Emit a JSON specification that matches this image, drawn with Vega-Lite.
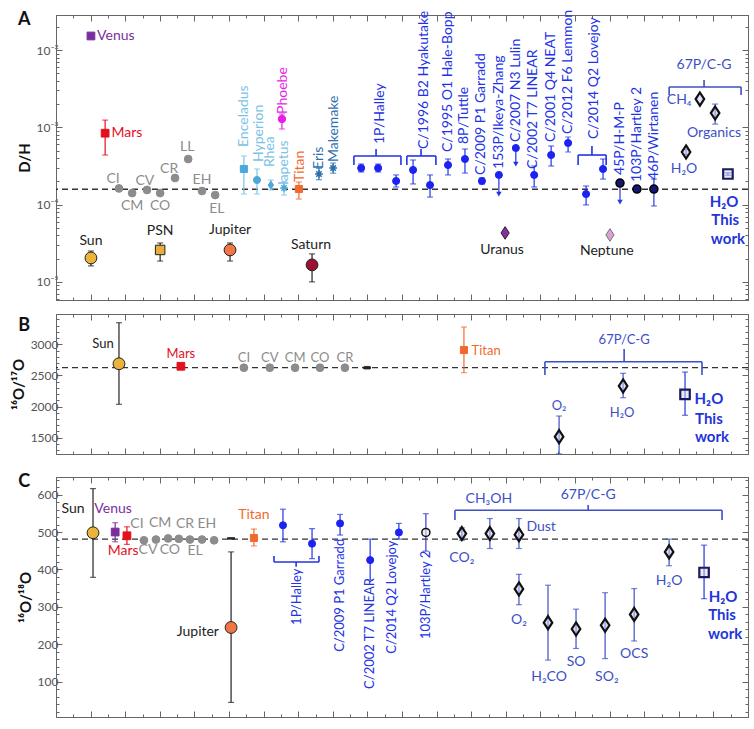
{
"$schema": "https://vega.github.io/schema/vega-lite/v6.json",
"padding": {"left": 10, "top": 9, "right": 5, "bottom": 9},
"background": "white",
"config": {
  "font": "Lato",
  "view": {"stroke": "#666", "strokeWidth": 1},
  "axis": {"grid": false, "domainColor": "#666", "tickColor": "#666", "labelColor": "#555", "labelFont": "Lato", "labelFontSize": 12, "titleFont": "Lato", "titleFontSize": 15, "titleColor": "#111", "titleFontWeight": "bold"},
  "text": {"font": "Lato", "fontSize": 14, "baseline": "middle"}
},
"datasets": {
  "a_ref": [{"v": 0.000158}],
  "a_pts": [
    {"n":"Venus","x":1.01,"y":0.0152,"g":"venus"},
    {"n":"Mars","x":1.42,"y":0.00084,"lo":0.000438,"hi":0.00124,"g":"mars"},
    {"n":"Sun","x":1.01,"y":2.04e-5,"lo":1.61e-5,"hi":2.51e-5,"g":"sun"},
    {"n":"CI","x":1.82,"y":1.62e-4,"g":"chondrite"},
    {"n":"CM","x":2.20,"y":1.41e-4,"g":"chondrite"},
    {"n":"CV","x":2.63,"y":1.55e-4,"g":"chondrite"},
    {"n":"CO","x":3.01,"y":1.41e-4,"g":"chondrite"},
    {"n":"CR","x":3.44,"y":2.21e-4,"g":"chondrite"},
    {"n":"LL","x":3.82,"y":3.89e-4,"g":"chondrite"},
    {"n":"EH","x":4.22,"y":1.50e-4,"g":"chondrite"},
    {"n":"EL","x":4.60,"y":1.33e-4,"g":"chondrite"},
    {"n":"PSN","x":3.01,"y":2.59e-5,"lo":1.86e-5,"hi":3.19e-5,"g":"psn"},
    {"n":"Jupiter","x":5.03,"y":2.59e-5,"lo":1.86e-5,"hi":3.19e-5,"g":"jupiter"},
    {"n":"Enceladus","x":5.43,"y":2.89e-4,"lo":1.37e-4,"hi":4.26e-4,"g":"icysq"},
    {"n":"Hyperion","x":5.81,"y":2.08e-4,"lo":1.37e-4,"hi":2.89e-4,"g":"icyci"},
    {"n":"Rhea","x":6.21,"y":1.79e-4,"lo":1.55e-4,"hi":2.08e-4,"g":"icydi"},
    {"n":"Iapetus","x":6.59,"y":1.64e-4,"lo":1.33e-4,"hi":2.0e-4,"g":"icyast"},
    {"n":"Phoebe","x":6.53,"y":1.28e-3,"lo":9.5e-4,"hi":1.49e-3,"g":"phoebe"},
    {"n":"Titan","x":7.02,"y":1.59e-4,"lo":1.18e-4,"hi":1.96e-4,"g":"titan"},
    {"n":"Eris","x":7.60,"y":2.49e-4,"lo":2.1e-4,"hi":2.95e-4,"g":"tno"},
    {"n":"Makemake","x":8.01,"y":2.97e-4,"lo":2.55e-4,"hi":3.45e-4,"g":"tno"},
    {"n":"Saturn","x":7.40,"y":1.66e-5,"lo":1.0e-5,"hi":2.3e-5,"g":"saturn"},
    {"n":"Halley a","x":8.82,"y":2.97e-4,"lo":2.64e-4,"hi":3.35e-4,"g":"comet"},
    {"n":"Halley b","x":9.31,"y":2.97e-4,"lo":2.64e-4,"hi":3.35e-4,"g":"comet"},
    {"n":"Halley c","x":9.83,"y":2.02e-4,"lo":1.69e-4,"hi":2.42e-4,"g":"comet"},
    {"n":"Hyakutake a","x":10.32,"y":2.81e-4,"lo":1.85e-4,"hi":3.78e-4,"g":"comet"},
    {"n":"Hyakutake b","x":10.81,"y":1.79e-4,"lo":1.25e-4,"hi":2.42e-4,"g":"comet"},
    {"n":"Hale-Bopp","x":11.33,"y":3.25e-4,"lo":2.42e-4,"hi":3.89e-4,"g":"comet"},
    {"n":"Tuttle","x":11.82,"y":3.89e-4,"lo":2.56e-4,"hi":5.24e-4,"g":"comet"},
    {"n":"Garradd","x":12.31,"y":2.02e-4,"lo":1.85e-4,"hi":2.21e-4,"g":"comet"},
    {"n":"Ikeya-Zhang","x":12.80,"y":2.42e-4,"ar":1.37e-4,"g":"comet"},
    {"n":"Lulin","x":13.29,"y":5.4e-4,"ar":3.35e-4,"g":"comet"},
    {"n":"LINEAR","x":13.82,"y":2.42e-4,"lo":1.69e-4,"hi":3.16e-4,"g":"comet"},
    {"n":"NEAT","x":14.31,"y":4.38e-4,"lo":3.16e-4,"hi":5.73e-4,"g":"comet"},
    {"n":"Lemmon","x":14.80,"y":6.27e-4,"lo":4.79e-4,"hi":7.5e-4,"g":"comet"},
    {"n":"Lovejoy a","x":15.32,"y":1.37e-4,"lo":9.9e-5,"hi":1.74e-4,"g":"comet"},
    {"n":"Lovejoy b","x":15.81,"y":2.89e-4,"lo":2.14e-4,"hi":3.89e-4,"g":"comet"},
    {"n":"45P","x":16.30,"y":1.90e-4,"ar":1.08e-4,"g":"jfc"},
    {"n":"103P","x":16.79,"y":1.59e-4,"lo":1.46e-4,"hi":1.74e-4,"g":"jfc"},
    {"n":"46P","x":17.28,"y":1.59e-4,"lo":9.6e-5,"hi":2.14e-4,"g":"jfc"},
    {"n":"Uranus","x":12.98,"y":4.3e-5,"g":"uranus"},
    {"n":"Neptune","x":16.01,"y":4.05e-5,"g":"neptune"},
    {"n":"CH4","x":18.61,"y":2.32e-3,"g":"c67p"},
    {"n":"Organics","x":19.05,"y":1.53e-3,"lo":1.1e-3,"hi":2.0e-3,"g":"c67p"},
    {"n":"H2O","x":18.21,"y":4.79e-4,"lo":4.4e-4,"hi":5.2e-4,"g":"c67p"},
    {"n":"This work","x":19.42,"y":2.49e-4,"lo":2.4e-4,"hi":2.58e-4,"g":"thiswork"}
  ],
  "a_lab": [
    {"t":"Venus","x":1.73,"y":0.0152,"g":"venus"},
    {"t":"Mars","x":2.05,"y":0.00084,"g":"mars"},
    {"t":"Sun","x":1.01,"y":3.38e-5,"g":"sun"},
    {"t":"PSN","x":3.01,"y":4.55e-5,"g":"psn"},
    {"t":"Jupiter","x":5.03,"y":4.69e-5,"g":"jupiter"},
    {"t":"Saturn","x":7.37,"y":3.0e-5,"g":"saturn"},
    {"t":"CI","x":1.65,"y":2.14e-4,"g":"chondrite"},
    {"t":"CM","x":2.20,"y":9.6e-5,"g":"chondrite"},
    {"t":"CV","x":2.57,"y":2.02e-4,"g":"chondrite"},
    {"t":"CO","x":3.01,"y":9.6e-5,"g":"chondrite"},
    {"t":"CR","x":3.27,"y":2.89e-4,"g":"chondrite"},
    {"t":"LL","x":3.79,"y":5.56e-4,"g":"chondrite"},
    {"t":"EH","x":4.22,"y":2.08e-4,"g":"chondrite"},
    {"t":"EL","x":4.65,"y":8.77e-5,"g":"chondrite"},
    {"t":"Uranus","x":12.89,"y":2.59e-5,"g":"uranus"},
    {"t":"Neptune","x":15.92,"y":2.51e-5,"g":"neptune"},
    {"t":"67P/C-G","x":18.73,"y":0.0064,"g":"c67p"},
    {"t":"CH₄","x":18.01,"y":0.00225,"g":"c67p"},
    {"t":"Organics","x":19.02,"y":0.00084,"g":"c67p"},
    {"t":"H₂O","x":18.15,"y":2.89e-4,"g":"c67p"},
    {"t":"H₂O","x":19.31,"y":1.08e-4,"g":"thiswork"},
    {"t":"This","x":19.34,"y":6.33e-5,"g":"thiswork"},
    {"t":"work","x":19.42,"y":3.59e-5,"g":"thiswork"}
  ],
  "a_vlab": [
    {"t":"Enceladus","x":5.43,"y":5.56e-4,"g":"icysq"},
    {"t":"Hyperion","x":5.87,"y":3.56e-4,"g":"icysq"},
    {"t":"Rhea","x":6.18,"y":3.06e-4,"g":"icysq"},
    {"t":"Iapetus","x":6.59,"y":1.79e-4,"g":"icysq"},
    {"t":"Phoebe","x":6.56,"y":1.49e-3,"g":"phoebe"},
    {"t":"Titan","x":7.05,"y":1.96e-4,"g":"titan"},
    {"t":"Eris","x":7.60,"y":2.89e-4,"g":"tno"},
    {"t":"Makemake","x":8.03,"y":3.56e-4,"g":"tno"},
    {"t":"1P/Halley","x":9.36,"y":6.08e-4,"g":"comet"},
    {"t":"C/1996 B2 Hyakutake","x":10.64,"y":5.24e-4,"g":"comet"},
    {"t":"C/1995 O1 Hale-Bopp","x":11.33,"y":4.79e-4,"g":"comet"},
    {"t":"8P/Tuttle","x":11.79,"y":6.08e-4,"g":"comet"},
    {"t":"C/2009 P1 Garradd","x":12.28,"y":2.42e-4,"g":"comet"},
    {"t":"153P/Ikeya-Zhang","x":12.80,"y":2.89e-4,"g":"comet"},
    {"t":"C/2007 N3 Lulin","x":13.29,"y":6.46e-4,"g":"comet"},
    {"t":"C/2002 T7 LINEAR","x":13.79,"y":2.89e-4,"g":"comet"},
    {"t":"C/2001 Q4 NEAT","x":14.31,"y":6.46e-4,"g":"comet"},
    {"t":"C/2012 F6 Lemmon","x":14.80,"y":8.18e-4,"g":"comet"},
    {"t":"C/2014 Q2 Lovejoy","x":15.55,"y":7.06e-4,"g":"comet"},
    {"t":"45P/H-M-P","x":16.30,"y":2.42e-4,"g":"comet"},
    {"t":"103P/Hartley 2","x":16.79,"y":1.96e-4,"g":"comet"},
    {"t":"46P/Wirtanen","x":17.28,"y":2.08e-4,"g":"comet"}
  ],
  "a_seg": [
    {"x":8.61,"x2":9.97,"y":4.26e-4,"y2":4.26e-4,"g":"comet"},
    {"x":8.61,"x2":8.61,"y":4.26e-4,"y2":3.25e-4,"g":"comet"},
    {"x":9.97,"x2":9.97,"y":4.26e-4,"y2":3.25e-4,"g":"comet"},
    {"x":9.25,"x2":9.25,"y":4.26e-4,"y2":5.24e-4,"g":"comet"},
    {"x":10.14,"x2":10.98,"y":4.26e-4,"y2":4.26e-4,"g":"comet"},
    {"x":10.14,"x2":10.14,"y":4.26e-4,"y2":3.25e-4,"g":"comet"},
    {"x":10.98,"x2":10.98,"y":4.26e-4,"y2":3.25e-4,"g":"comet"},
    {"x":10.55,"x2":10.55,"y":4.26e-4,"y2":5.24e-4,"g":"comet"},
    {"x":15.09,"x2":15.90,"y":4.38e-4,"y2":4.38e-4,"g":"comet"},
    {"x":15.09,"x2":15.09,"y":4.38e-4,"y2":3.25e-4,"g":"comet"},
    {"x":15.90,"x2":15.90,"y":4.38e-4,"y2":3.25e-4,"g":"comet"},
    {"x":15.49,"x2":15.49,"y":4.38e-4,"y2":5.73e-4,"g":"comet"},
    {"x":17.72,"x2":19.80,"y":3.32e-3,"y2":3.32e-3,"g":"c67p"},
    {"x":17.72,"x2":17.72,"y":3.32e-3,"y2":2.62e-3,"g":"c67p"},
    {"x":19.80,"x2":19.80,"y":3.32e-3,"y2":2.62e-3,"g":"c67p"},
    {"x":18.73,"x2":18.73,"y":3.32e-3,"y2":4.09e-3,"g":"c67p"}
  ],
  "b_ref": [{"v": 2624}],
  "b_pts": [
    {"n":"Sun","x":1.82,"y":2688,"lo":2036,"hi":3347,"g":"sun"},
    {"n":"Mars","x":3.61,"y":2647,"g":"mars"},
    {"n":"CI","x":5.43,"y":2624,"g":"chondrite"},
    {"n":"CV","x":6.18,"y":2624,"g":"chondrite"},
    {"n":"CM","x":6.91,"y":2624,"g":"chondrite"},
    {"n":"CO","x":7.63,"y":2624,"g":"chondrite"},
    {"n":"CR","x":8.35,"y":2624,"g":"chondrite"},
    {"n":"other","x":8.99,"y":2624,"lo":2604,"hi":2644,"g":"dash"},
    {"n":"Titan","x":11.79,"y":2908,"lo":2544,"hi":3278,"g":"titan"},
    {"n":"O2","x":14.54,"y":1516,"lo":1240,"hi":1848,"g":"c67p"},
    {"n":"H2O","x":16.39,"y":2330,"lo":2142,"hi":2534,"g":"c67p"},
    {"n":"This work","x":18.18,"y":2197,"lo":1860,"hi":2555,"g":"thiswork"}
  ],
  "b_lab": [
    {"t":"Sun","x":1.36,"y":3005,"g":"sun"},
    {"t":"Mars","x":3.61,"y":2844,"g":"mars"},
    {"t":"CI","x":5.43,"y":2780,"g":"chondrite"},
    {"t":"CV","x":6.18,"y":2780,"g":"chondrite"},
    {"t":"CM","x":6.91,"y":2780,"g":"chondrite"},
    {"t":"CO","x":7.63,"y":2780,"g":"chondrite"},
    {"t":"CR","x":8.35,"y":2780,"g":"chondrite"},
    {"t":"Titan","x":12.43,"y":2892,"g":"titan"},
    {"t":"67P/C-G","x":16.42,"y":3069,"g":"c67p"},
    {"t":"O₂","x":14.54,"y":2009,"g":"c67p"},
    {"t":"H₂O","x":16.36,"y":1897,"g":"c67p"},
    {"t":"H₂O","x":18.87,"y":2122,"g":"thiswork"},
    {"t":"This","x":18.87,"y":1801,"g":"thiswork"},
    {"t":"work","x":18.96,"y":1511,"g":"thiswork"}
  ],
  "b_seg": [
    {"x":14.13,"x2":18.67,"y":2721,"y2":2721,"g":"c67p"},
    {"x":14.13,"x2":14.13,"y":2721,"y2":2507,"g":"c67p"},
    {"x":18.67,"x2":18.67,"y":2721,"y2":2507,"g":"c67p"},
    {"x":16.42,"x2":16.42,"y":2721,"y2":2925,"g":"c67p"}
  ],
  "c_ref": [{"v": 481}],
  "c_pts": [
    {"n":"Sun","x":1.07,"y":498,"lo":379,"hi":616,"g":"sun"},
    {"n":"Venus","x":1.71,"y":500,"lo":474,"hi":525,"g":"venus"},
    {"n":"Mars","x":2.05,"y":490,"lo":467,"hi":514,"g":"mars"},
    {"n":"CI","x":2.54,"y":478,"g":"chondrite"},
    {"n":"CV","x":2.89,"y":480,"g":"chondrite"},
    {"n":"CM","x":3.24,"y":483,"g":"chondrite"},
    {"n":"CO","x":3.55,"y":482,"g":"chondrite"},
    {"n":"CR","x":3.87,"y":480,"g":"chondrite"},
    {"n":"EL","x":4.22,"y":480,"g":"chondrite"},
    {"n":"EH","x":4.57,"y":478,"g":"chondrite"},
    {"n":"other","x":5.06,"y":483,"g":"dash"},
    {"n":"Jupiter","x":5.06,"y":245,"lo":45,"hi":447,"g":"jupiter"},
    {"n":"Titan","x":5.72,"y":484,"lo":463,"hi":508,"g":"titan"},
    {"n":"Halley a","x":6.56,"y":518,"lo":474,"hi":561,"g":"comet"},
    {"n":"Halley b","x":7.40,"y":469,"lo":429,"hi":509,"g":"comet"},
    {"n":"Garradd","x":8.21,"y":523,"lo":492,"hi":547,"g":"comet"},
    {"n":"LINEAR","x":9.08,"y":425,"lo":372,"hi":481,"g":"comet"},
    {"n":"Lovejoy","x":9.91,"y":499,"lo":481,"hi":523,"g":"comet"},
    {"n":"103P","x":10.69,"y":499,"lo":449,"hi":549,"g":"jfcopen"},
    {"n":"CO2","x":11.73,"y":496,"lo":478,"hi":511,"g":"c67p"},
    {"n":"CH3OH","x":12.54,"y":496,"lo":456,"hi":536,"g":"c67p"},
    {"n":"Dust","x":13.38,"y":493,"lo":456,"hi":536,"g":"c67p"},
    {"n":"O2","x":13.38,"y":348,"lo":306,"hi":387,"g":"c67p"},
    {"n":"H2CO","x":14.22,"y":258,"lo":158,"hi":358,"g":"c67p"},
    {"n":"SO","x":15.03,"y":241,"lo":189,"hi":294,"g":"c67p"},
    {"n":"SO2","x":15.87,"y":251,"lo":162,"hi":338,"g":"c67p"},
    {"n":"OCS","x":16.71,"y":280,"lo":209,"hi":349,"g":"c67p"},
    {"n":"H2O","x":17.72,"y":447,"lo":410,"hi":481,"g":"c67p"},
    {"n":"This work","x":18.73,"y":392,"lo":322,"hi":465,"g":"thiswork"}
  ],
  "c_lab": [
    {"t":"Sun","x":0.49,"y":562,"g":"sun"},
    {"t":"Venus","x":1.65,"y":562,"g":"venus"},
    {"t":"Mars","x":1.94,"y":449,"g":"mars"},
    {"t":"CI","x":2.34,"y":522,"g":"chondrite"},
    {"t":"CM","x":3.01,"y":524,"g":"chondrite"},
    {"t":"CR","x":3.73,"y":522,"g":"chondrite"},
    {"t":"EH","x":4.36,"y":522,"g":"chondrite"},
    {"t":"CV","x":2.66,"y":452,"g":"chondrite"},
    {"t":"CO","x":3.29,"y":452,"g":"chondrite"},
    {"t":"EL","x":4.02,"y":450,"g":"chondrite"},
    {"t":"Jupiter","x":4.10,"y":233,"g":"jupiter"},
    {"t":"Titan","x":5.72,"y":546,"g":"titan"},
    {"t":"67P/C-G","x":15.38,"y":599,"g":"c67p"},
    {"t":"CH₃OH","x":12.51,"y":589,"g":"c67p"},
    {"t":"CO₂","x":11.73,"y":431,"g":"c67p"},
    {"t":"Dust","x":14.02,"y":514,"g":"c67p"},
    {"t":"O₂","x":13.38,"y":266,"g":"c67p"},
    {"t":"H₂CO","x":14.25,"y":113,"g":"c67p"},
    {"t":"SO","x":15.03,"y":153,"g":"c67p"},
    {"t":"SO₂","x":15.92,"y":113,"g":"c67p"},
    {"t":"OCS","x":16.71,"y":175,"g":"c67p"},
    {"t":"H₂O","x":17.72,"y":370,"g":"c67p"},
    {"t":"H₂O","x":19.28,"y":327,"g":"thiswork"},
    {"t":"This","x":19.25,"y":279,"g":"thiswork"},
    {"t":"work","x":19.34,"y":228,"g":"thiswork"}
  ],
  "c_vlab": [
    {"t":"1P/Halley","x":6.97,"y":252,"g":"comet"},
    {"t":"C/2009 P1 Garradd","x":8.21,"y":180,"g":"comet"},
    {"t":"C/2002 T7 LINEAR","x":9.08,"y":81,"g":"comet"},
    {"t":"C/2014 Q2 Lovejoy","x":9.71,"y":175,"g":"comet"},
    {"t":"103P/Hartley 2","x":10.69,"y":214,"g":"comet"}
  ],
  "c_seg": [
    {"x":6.30,"x2":7.60,"y":420,"y2":420,"g":"comet"},
    {"x":6.30,"x2":6.30,"y":420,"y2":436,"g":"comet"},
    {"x":7.60,"x2":7.60,"y":420,"y2":436,"g":"comet"},
    {"x":6.94,"x2":6.94,"y":420,"y2":407,"g":"comet"},
    {"x":11.53,"x2":19.25,"y":558,"y2":558,"g":"c67p"},
    {"x":11.53,"x2":11.53,"y":558,"y2":532,"g":"c67p"},
    {"x":19.25,"x2":19.25,"y":558,"y2":532,"g":"c67p"},
    {"x":15.38,"x2":15.38,"y":558,"y2":572,"g":"c67p"}
  ]
},
"spacing": 12,
"vconcat": [
{
  "width": 692, "height": 285,
  "resolve": {"axis": {"x": "independent", "y": "independent"}},
  "layer": [
    {"data": {"name": "a_ref"}, "mark": {"type": "rule", "strokeDash": [6, 4], "color": "#333", "strokeWidth": 1.3},
     "encoding": {"y": {"field": "v", "type": "quantitative", "scale": {"type": "log", "domain": [5.83e-6, 0.0284], "nice": false}, "axis": null}}},
    {"data": {"name": "a_seg"}, "mark": {"type": "rule", "strokeWidth": 1.6},
     "encoding": {"x": {"field": "x", "type": "quantitative", "scale": {"domain": [0, 20], "nice": false, "zero": false}, "axis": null}, "x2": {"field": "x2"},
       "y": {"field": "y", "type": "quantitative", "axis": null}, "y2": {"field": "y2"},
       "color": {"field": "g", "type": "nominal", "legend": null, "scale": {"domain": ["sun","psn","jupiter","saturn","venus","mars","chondrite","icysq","icyci","icydi","icyast","phoebe","titan","tno","comet","jfc","jfcopen","uranus","neptune","c67p","thiswork","dash"], "range": ["#222222","#222222","#222222","#222222","#7a2e9e","#e3101e","#8c8c8c","#7cc2e6","#7cc2e6","#7cc2e6","#7cc2e6","#e61ee6","#f2692e","#2e6fae","#2233e6","#2a3ad8","#3a3ac8","#222222","#222222","#3d4fc6","#1f35d9","#222222"]}}}},
    {"data": {"name": "a_pts"}, "transform": [{"filter": "isValid(datum.lo)"}], "mark": {"type": "rule", "strokeWidth": 1.2},
     "encoding": {"x": {"field": "x", "type": "quantitative", "axis": {"orient": "bottom", "values": [0,1,2,3,4,5,6,7,8,9,10,11,12,13,14,15,16,17,18,19,20], "labels": false, "tickSize": -6, "title": null}},
       "y": {"field": "lo", "type": "quantitative", "axis": {"orient": "left", "values": [1e-5, 1e-4, 1e-3, 1e-2], "tickSize": -6, "labelPadding": 4, "labelExpr": "datum.value > 0.005 ? '10⁻²' : datum.value > 0.0005 ? '10⁻³' : datum.value > 0.00005 ? '10⁻⁴' : '10⁻⁵'", "title": "D/H"}},
       "y2": {"field": "hi"}, "color": {"field": "g", "type": "nominal", "legend": null}}},
    {"data": {"name": "a_pts"}, "transform": [{"filter": "isValid(datum.lo)"}], "mark": {"type": "tick", "orient": "horizontal", "size": 6, "thickness": 1.2},
     "encoding": {"x": {"field": "x", "type": "quantitative", "axis": {"orient": "bottom", "values": [0.5,1.5,2.5,3.5,4.5,5.5,6.5,7.5,8.5,9.5,10.5,11.5,12.5,13.5,14.5,15.5,16.5,17.5,18.5,19.5], "labels": false, "domain": false, "tickSize": -3, "title": null}},
       "y": {"field": "lo", "type": "quantitative", "axis": {"orient": "left", "values": [6e-6,7e-6,8e-6,9e-6,2e-5,3e-5,4e-5,5e-5,6e-5,7e-5,8e-5,9e-5,2e-4,3e-4,4e-4,5e-4,6e-4,7e-4,8e-4,9e-4,2e-3,3e-3,4e-3,5e-3,6e-3,7e-3,8e-3,9e-3,2e-2], "labels": false, "domain": false, "tickSize": -3, "title": null}},
       "color": {"field": "g", "type": "nominal", "legend": null}}},
    {"data": {"name": "a_pts"}, "transform": [{"filter": "isValid(datum.hi)"}], "mark": {"type": "tick", "orient": "horizontal", "size": 6, "thickness": 1.2},
     "encoding": {"x": {"field": "x", "type": "quantitative", "axis": null}, "y": {"field": "hi", "type": "quantitative", "axis": null}, "color": {"field": "g", "type": "nominal", "legend": null}}},
    {"data": {"name": "a_pts"}, "transform": [{"filter": "isValid(datum.ar)"}], "mark": {"type": "rule", "strokeWidth": 1.2},
     "encoding": {"x": {"field": "x", "type": "quantitative", "axis": null}, "y": {"field": "y", "type": "quantitative", "axis": null}, "y2": {"field": "ar"}, "color": {"field": "g", "type": "nominal", "legend": null}}},
    {"data": {"name": "a_pts"}, "transform": [{"filter": "isValid(datum.ar)"}], "mark": {"type": "point", "shape": "triangle-down", "filled": true, "size": 30, "opacity": 1},
     "encoding": {"x": {"field": "x", "type": "quantitative", "axis": null}, "y": {"field": "ar", "type": "quantitative", "axis": null}, "color": {"field": "g", "type": "nominal", "legend": null}}},
    {"data": {"name": "a_pts"}, "mark": {"type": "point", "filled": true, "opacity": 1},
     "encoding": {"x": {"field": "x", "type": "quantitative", "axis": {"orient": "top", "values": [0,1,2,3,4,5,6,7,8,9,10,11,12,13,14,15,16,17,18,19,20], "labels": false, "tickSize": -6, "title": null}},
       "y": {"field": "y", "type": "quantitative", "axis": {"orient": "right", "values": [1e-5, 1e-4, 1e-3, 1e-2], "labels": false, "tickSize": -6, "title": null}},
       "shape": {"field": "g", "type": "nominal", "legend": null, "scale": {"domain": ["sun","psn","jupiter","saturn","venus","mars","chondrite","icysq","icyci","icydi","icyast","phoebe","titan","tno","comet","jfc","jfcopen","uranus","neptune","c67p","thiswork","dash"], "range": ["circle","square","circle","circle","square","square","circle","square","circle","M0,-1.15L0.75,0L0,1.15L-0.75,0Z","M-1,0L1,0M0,-1L0,1M-0.7,-0.7L0.7,0.7M-0.7,0.7L0.7,-0.7","circle","square","M-1,0L1,0M0,-1L0,1M-0.7,-0.7L0.7,0.7M-0.7,0.7L0.7,-0.7","circle","circle","circle","M0,-1.15L0.75,0L0,1.15L-0.75,0Z","M0,-1.15L0.75,0L0,1.15L-0.75,0Z","M0,-1.15L0.75,0L0,1.15L-0.75,0Z","square","stroke"]}},
       "fill": {"field": "g", "type": "nominal", "legend": null, "scale": {"domain": ["sun","psn","jupiter","saturn","venus","mars","chondrite","icysq","icyci","icydi","icyast","phoebe","titan","tno","comet","jfc","jfcopen","uranus","neptune","c67p","thiswork","dash"], "range": ["#eab43a","#e8ae3c","#f27545","#9c1030","#7a2e9e","#e3101e","#8c8c8c","#4ca7da","#4ca7da","#4ca7da","#4ca7da","#e61ee6","#f2692e","#2e6fae","#1c22f0","#141670","#e4e4ee","#8a2ca6","#dba0d6","#c8c8f0","#d6d6e6","#222222"]}},
       "stroke": {"field": "g", "type": "nominal", "legend": null, "scale": {"domain": ["sun","psn","jupiter","saturn","venus","mars","chondrite","icysq","icyci","icydi","icyast","phoebe","titan","tno","comet","jfc","jfcopen","uranus","neptune","c67p","thiswork","dash"], "range": ["#222222","#222222","#222222","#222222","#7a2e9e","#e3101e","#8c8c8c","#4ca7da","#4ca7da","#4ca7da","#4ca7da","#e61ee6","#f2692e","#2e6fae","#1c22f0","#000000","#111111","#222222","#777777","#111111","#1a1a5e","#222222"]}},
       "size": {"field": "g", "type": "nominal", "legend": null, "scale": {"type": "ordinal", "domain": ["sun","psn","jupiter","saturn","venus","mars","chondrite","icysq","icyci","icydi","icyast","phoebe","titan","tno","comet","jfc","jfcopen","uranus","neptune","c67p","thiswork","dash"], "range": [140,90,140,140,60,60,60,50,50,50,60,55,50,60,50,65,65,120,120,130,90,60]}},
       "strokeWidth": {"field": "g", "type": "nominal", "legend": null, "scale": {"type": "ordinal", "domain": ["sun","psn","jupiter","saturn","venus","mars","chondrite","icysq","icyci","icydi","icyast","phoebe","titan","tno","comet","jfc","jfcopen","uranus","neptune","c67p","thiswork","dash"], "range": [1,1,1,1,1,1,1,1,1,1,1.5,1,1,1.5,1,1.5,1.5,1,1,2.2,2.2,2.5]}},
       "fillOpacity": {"field": "g", "type": "nominal", "legend": null, "scale": {"type": "ordinal", "domain": ["sun","psn","jupiter","saturn","venus","mars","chondrite","icysq","icyci","icydi","icyast","phoebe","titan","tno","comet","jfc","jfcopen","uranus","neptune","c67p","thiswork","dash"], "range": [1,1,1,1,1,1,1,1,1,1,1,1,1,1,1,1,0.6,1,1,0.55,0.5,1]}}}},
    {"data": {"name": "a_lab"}, "transform": [{"filter": "datum.g != 'thiswork'"}], "mark": {"type": "text", "fontSize": 14},
     "encoding": {"x": {"field": "x", "type": "quantitative", "axis": {"orient": "top", "values": [0.5,1.5,2.5,3.5,4.5,5.5,6.5,7.5,8.5,9.5,10.5,11.5,12.5,13.5,14.5,15.5,16.5,17.5,18.5,19.5], "labels": false, "domain": false, "tickSize": -3, "title": null}},
       "y": {"field": "y", "type": "quantitative", "axis": {"orient": "right", "values": [6e-6,7e-6,8e-6,9e-6,2e-5,3e-5,4e-5,5e-5,6e-5,7e-5,8e-5,9e-5,2e-4,3e-4,4e-4,5e-4,6e-4,7e-4,8e-4,9e-4,2e-3,3e-3,4e-3,5e-3,6e-3,7e-3,8e-3,9e-3,2e-2], "labels": false, "domain": false, "tickSize": -3, "title": null}},
       "text": {"field": "t"}, "color": {"field": "g", "type": "nominal", "legend": null}}},
    {"data": {"name": "a_lab"}, "transform": [{"filter": "datum.g == 'thiswork'"}], "mark": {"type": "text", "fontSize": 15, "fontWeight": "bold"},
     "encoding": {"x": {"field": "x", "type": "quantitative", "axis": null}, "y": {"field": "y", "type": "quantitative", "axis": null}, "text": {"field": "t"}, "color": {"field": "g", "type": "nominal", "legend": null}}},
    {"data": {"name": "a_vlab"}, "mark": {"type": "text", "fontSize": 14, "angle": 270, "align": "left", "baseline": "middle"},
     "encoding": {"x": {"field": "x", "type": "quantitative", "axis": null}, "y": {"field": "y", "type": "quantitative", "axis": null}, "text": {"field": "t"}, "color": {"field": "g", "type": "nominal", "legend": null}}},
    {"data": {"values": [{"t": "A", "x": -0.92, "y": 0.0244}]}, "mark": {"type": "text", "fontSize": 18, "fontWeight": "bold", "color": "#111"},
     "encoding": {"x": {"field": "x", "type": "quantitative", "axis": null}, "y": {"field": "y", "type": "quantitative", "axis": null}, "text": {"field": "t"}}}
  ]
},
{
  "width": 692, "height": 140,
  "resolve": {"axis": {"x": "independent", "y": "independent"}},
  "layer": [
    {"data": {"name": "b_ref"}, "mark": {"type": "rule", "strokeDash": [6, 4], "color": "#333", "strokeWidth": 1.3},
     "encoding": {"y": {"field": "v", "type": "quantitative", "scale": {"domain": [1238, 3487], "nice": false, "zero": false}, "axis": null}}},
    {"data": {"name": "b_seg"}, "mark": {"type": "rule", "strokeWidth": 1.6},
     "encoding": {"x": {"field": "x", "type": "quantitative", "scale": {"domain": [0, 20], "nice": false, "zero": false}, "axis": null}, "x2": {"field": "x2"},
       "y": {"field": "y", "type": "quantitative", "axis": null}, "y2": {"field": "y2"},
       "color": {"field": "g", "type": "nominal", "legend": null, "scale": {"domain": ["sun","psn","jupiter","saturn","venus","mars","chondrite","icysq","icyci","icydi","icyast","phoebe","titan","tno","comet","jfc","jfcopen","uranus","neptune","c67p","thiswork","dash"], "range": ["#222222","#222222","#222222","#222222","#7a2e9e","#e3101e","#8c8c8c","#7cc2e6","#7cc2e6","#7cc2e6","#7cc2e6","#e61ee6","#f2692e","#2e6fae","#2233e6","#2a3ad8","#3a3ac8","#222222","#222222","#3d4fc6","#1f35d9","#222222"]}}}},
    {"data": {"name": "b_pts"}, "transform": [{"filter": "isValid(datum.lo)"}], "mark": {"type": "rule", "strokeWidth": 1.2},
     "encoding": {"x": {"field": "x", "type": "quantitative", "axis": {"orient": "bottom", "values": [0,1,2,3,4,5,6,7,8,9,10,11,12,13,14,15,16,17,18,19,20], "labels": false, "tickSize": -6, "title": null}},
       "y": {"field": "lo", "type": "quantitative", "axis": {"orient": "left", "values": [1500, 2000, 2500, 3000], "format": "d", "tickSize": -6, "labelPadding": 4, "title": "¹⁶O/¹⁷O"}},
       "y2": {"field": "hi"}, "color": {"field": "g", "type": "nominal", "legend": null}}},
    {"data": {"name": "b_pts"}, "transform": [{"filter": "isValid(datum.lo)"}], "mark": {"type": "tick", "orient": "horizontal", "size": 6, "thickness": 1.2},
     "encoding": {"x": {"field": "x", "type": "quantitative", "axis": {"orient": "bottom", "values": [0.5,1.5,2.5,3.5,4.5,5.5,6.5,7.5,8.5,9.5,10.5,11.5,12.5,13.5,14.5,15.5,16.5,17.5,18.5,19.5], "labels": false, "domain": false, "tickSize": -3, "title": null}},
       "y": {"field": "lo", "type": "quantitative", "axis": {"orient": "left", "values": [1300,1400,1600,1700,1800,1900,2100,2200,2300,2400,2600,2700,2800,2900,3100,3200,3300,3400], "labels": false, "domain": false, "tickSize": -3, "title": null}},
       "color": {"field": "g", "type": "nominal", "legend": null}}},
    {"data": {"name": "b_pts"}, "transform": [{"filter": "isValid(datum.hi)"}], "mark": {"type": "tick", "orient": "horizontal", "size": 6, "thickness": 1.2},
     "encoding": {"x": {"field": "x", "type": "quantitative", "axis": null}, "y": {"field": "hi", "type": "quantitative", "axis": null}, "color": {"field": "g", "type": "nominal", "legend": null}}},
    {"data": {"name": "b_pts"}, "mark": {"type": "point", "filled": true, "opacity": 1},
     "encoding": {"x": {"field": "x", "type": "quantitative", "axis": {"orient": "top", "values": [0,1,2,3,4,5,6,7,8,9,10,11,12,13,14,15,16,17,18,19,20], "labels": false, "tickSize": -6, "title": null}},
       "y": {"field": "y", "type": "quantitative", "axis": {"orient": "right", "values": [1500, 2000, 2500, 3000], "labels": false, "tickSize": -6, "title": null}},
       "shape": {"field": "g", "type": "nominal", "legend": null, "scale": {"domain": ["sun","psn","jupiter","saturn","venus","mars","chondrite","icysq","icyci","icydi","icyast","phoebe","titan","tno","comet","jfc","jfcopen","uranus","neptune","c67p","thiswork","dash"], "range": ["circle","square","circle","circle","square","square","circle","square","circle","M0,-1.15L0.75,0L0,1.15L-0.75,0Z","M-1,0L1,0M0,-1L0,1M-0.7,-0.7L0.7,0.7M-0.7,0.7L0.7,-0.7","circle","square","M-1,0L1,0M0,-1L0,1M-0.7,-0.7L0.7,0.7M-0.7,0.7L0.7,-0.7","circle","circle","circle","M0,-1.15L0.75,0L0,1.15L-0.75,0Z","M0,-1.15L0.75,0L0,1.15L-0.75,0Z","M0,-1.15L0.75,0L0,1.15L-0.75,0Z","square","stroke"]}},
       "fill": {"field": "g", "type": "nominal", "legend": null, "scale": {"domain": ["sun","psn","jupiter","saturn","venus","mars","chondrite","icysq","icyci","icydi","icyast","phoebe","titan","tno","comet","jfc","jfcopen","uranus","neptune","c67p","thiswork","dash"], "range": ["#eab43a","#e8ae3c","#f27545","#9c1030","#7a2e9e","#e3101e","#8c8c8c","#4ca7da","#4ca7da","#4ca7da","#4ca7da","#e61ee6","#f2692e","#2e6fae","#1c22f0","#141670","#e4e4ee","#8a2ca6","#dba0d6","#c8c8f0","#d6d6e6","#222222"]}},
       "stroke": {"field": "g", "type": "nominal", "legend": null, "scale": {"domain": ["sun","psn","jupiter","saturn","venus","mars","chondrite","icysq","icyci","icydi","icyast","phoebe","titan","tno","comet","jfc","jfcopen","uranus","neptune","c67p","thiswork","dash"], "range": ["#222222","#222222","#222222","#222222","#7a2e9e","#e3101e","#8c8c8c","#4ca7da","#4ca7da","#4ca7da","#4ca7da","#e61ee6","#f2692e","#2e6fae","#1c22f0","#000000","#111111","#222222","#777777","#111111","#1a1a5e","#222222"]}},
       "size": {"field": "g", "type": "nominal", "legend": null, "scale": {"type": "ordinal", "domain": ["sun","psn","jupiter","saturn","venus","mars","chondrite","icysq","icyci","icydi","icyast","phoebe","titan","tno","comet","jfc","jfcopen","uranus","neptune","c67p","thiswork","dash"], "range": [140,90,140,140,60,60,60,50,50,50,60,55,50,60,50,65,65,120,120,130,90,60]}},
       "strokeWidth": {"field": "g", "type": "nominal", "legend": null, "scale": {"type": "ordinal", "domain": ["sun","psn","jupiter","saturn","venus","mars","chondrite","icysq","icyci","icydi","icyast","phoebe","titan","tno","comet","jfc","jfcopen","uranus","neptune","c67p","thiswork","dash"], "range": [1,1,1,1,1,1,1,1,1,1,1.5,1,1,1.5,1,1.5,1.5,1,1,2.2,2.2,2.5]}},
       "fillOpacity": {"field": "g", "type": "nominal", "legend": null, "scale": {"type": "ordinal", "domain": ["sun","psn","jupiter","saturn","venus","mars","chondrite","icysq","icyci","icydi","icyast","phoebe","titan","tno","comet","jfc","jfcopen","uranus","neptune","c67p","thiswork","dash"], "range": [1,1,1,1,1,1,1,1,1,1,1,1,1,1,1,1,0.6,1,1,0.55,0.5,1]}}}},
    {"data": {"name": "b_lab"}, "transform": [{"filter": "datum.g != 'thiswork'"}], "mark": {"type": "text", "fontSize": 13},
     "encoding": {"x": {"field": "x", "type": "quantitative", "axis": {"orient": "top", "values": [0.5,1.5,2.5,3.5,4.5,5.5,6.5,7.5,8.5,9.5,10.5,11.5,12.5,13.5,14.5,15.5,16.5,17.5,18.5,19.5], "labels": false, "domain": false, "tickSize": -3, "title": null}},
       "y": {"field": "y", "type": "quantitative", "axis": {"orient": "right", "values": [1300,1400,1600,1700,1800,1900,2100,2200,2300,2400,2600,2700,2800,2900,3100,3200,3300,3400], "labels": false, "domain": false, "tickSize": -3, "title": null}},
       "text": {"field": "t"}, "color": {"field": "g", "type": "nominal", "legend": null}}},
    {"data": {"name": "b_lab"}, "transform": [{"filter": "datum.g == 'thiswork'"}], "mark": {"type": "text", "fontSize": 15, "fontWeight": "bold"},
     "encoding": {"x": {"field": "x", "type": "quantitative", "axis": null}, "y": {"field": "y", "type": "quantitative", "axis": null}, "text": {"field": "t"}, "color": {"field": "g", "type": "nominal", "legend": null}}},
    {"data": {"values": [{"t": "B", "x": -0.92, "y": 3294}]}, "mark": {"type": "text", "fontSize": 18, "fontWeight": "bold", "color": "#111"},
     "encoding": {"x": {"field": "x", "type": "quantitative", "axis": null}, "y": {"field": "y", "type": "quantitative", "axis": null}, "text": {"field": "t"}}}
  ]
},
{
  "width": 692, "height": 240,
  "resolve": {"axis": {"x": "independent", "y": "independent"}},
  "layer": [
    {"data": {"name": "c_ref"}, "mark": {"type": "rule", "strokeDash": [6, 4], "color": "#333", "strokeWidth": 1.3},
     "encoding": {"y": {"field": "v", "type": "quantitative", "scale": {"domain": [6, 647], "nice": false, "zero": false}, "axis": null}}},
    {"data": {"name": "c_seg"}, "mark": {"type": "rule", "strokeWidth": 1.6},
     "encoding": {"x": {"field": "x", "type": "quantitative", "scale": {"domain": [0, 20], "nice": false, "zero": false}, "axis": null}, "x2": {"field": "x2"},
       "y": {"field": "y", "type": "quantitative", "axis": null}, "y2": {"field": "y2"},
       "color": {"field": "g", "type": "nominal", "legend": null, "scale": {"domain": ["sun","psn","jupiter","saturn","venus","mars","chondrite","icysq","icyci","icydi","icyast","phoebe","titan","tno","comet","jfc","jfcopen","uranus","neptune","c67p","thiswork","dash"], "range": ["#222222","#222222","#222222","#222222","#7a2e9e","#e3101e","#8c8c8c","#7cc2e6","#7cc2e6","#7cc2e6","#7cc2e6","#e61ee6","#f2692e","#2e6fae","#2233e6","#2a3ad8","#3a3ac8","#222222","#222222","#3d4fc6","#1f35d9","#222222"]}}}},
    {"data": {"name": "c_pts"}, "transform": [{"filter": "isValid(datum.lo)"}], "mark": {"type": "rule", "strokeWidth": 1.2},
     "encoding": {"x": {"field": "x", "type": "quantitative", "axis": {"orient": "bottom", "values": [0,1,2,3,4,5,6,7,8,9,10,11,12,13,14,15,16,17,18,19,20], "labels": false, "tickSize": -6, "title": null}},
       "y": {"field": "lo", "type": "quantitative", "axis": {"orient": "left", "values": [100, 200, 300, 400, 500, 600], "tickSize": -6, "labelPadding": 4, "title": "¹⁶O/¹⁸O"}},
       "y2": {"field": "hi"}, "color": {"field": "g", "type": "nominal", "legend": null}}},
    {"data": {"name": "c_pts"}, "transform": [{"filter": "isValid(datum.lo)"}], "mark": {"type": "tick", "orient": "horizontal", "size": 6, "thickness": 1.2},
     "encoding": {"x": {"field": "x", "type": "quantitative", "axis": {"orient": "bottom", "values": [0.5,1.5,2.5,3.5,4.5,5.5,6.5,7.5,8.5,9.5,10.5,11.5,12.5,13.5,14.5,15.5,16.5,17.5,18.5,19.5], "labels": false, "domain": false, "tickSize": -3, "title": null}},
       "y": {"field": "lo", "type": "quantitative", "axis": {"orient": "left", "values": [20,40,60,80,120,140,160,180,220,240,260,280,320,340,360,380,420,440,460,480,520,540,560,580,620,640], "labels": false, "domain": false, "tickSize": -3, "title": null}},
       "color": {"field": "g", "type": "nominal", "legend": null}}},
    {"data": {"name": "c_pts"}, "transform": [{"filter": "isValid(datum.hi)"}], "mark": {"type": "tick", "orient": "horizontal", "size": 6, "thickness": 1.2},
     "encoding": {"x": {"field": "x", "type": "quantitative", "axis": null}, "y": {"field": "hi", "type": "quantitative", "axis": null}, "color": {"field": "g", "type": "nominal", "legend": null}}},
    {"data": {"name": "c_pts"}, "mark": {"type": "point", "filled": true, "opacity": 1},
     "encoding": {"x": {"field": "x", "type": "quantitative", "axis": {"orient": "top", "values": [0,1,2,3,4,5,6,7,8,9,10,11,12,13,14,15,16,17,18,19,20], "labels": false, "tickSize": -6, "title": " ", "titleFontSize": 1, "titlePadding": 8}},
       "y": {"field": "y", "type": "quantitative", "axis": {"orient": "right", "values": [100, 200, 300, 400, 500, 600], "labels": false, "tickSize": -6, "title": null}},
       "shape": {"field": "g", "type": "nominal", "legend": null, "scale": {"domain": ["sun","psn","jupiter","saturn","venus","mars","chondrite","icysq","icyci","icydi","icyast","phoebe","titan","tno","comet","jfc","jfcopen","uranus","neptune","c67p","thiswork","dash"], "range": ["circle","square","circle","circle","square","square","circle","square","circle","M0,-1.15L0.75,0L0,1.15L-0.75,0Z","M-1,0L1,0M0,-1L0,1M-0.7,-0.7L0.7,0.7M-0.7,0.7L0.7,-0.7","circle","square","M-1,0L1,0M0,-1L0,1M-0.7,-0.7L0.7,0.7M-0.7,0.7L0.7,-0.7","circle","circle","circle","M0,-1.15L0.75,0L0,1.15L-0.75,0Z","M0,-1.15L0.75,0L0,1.15L-0.75,0Z","M0,-1.15L0.75,0L0,1.15L-0.75,0Z","square","stroke"]}},
       "fill": {"field": "g", "type": "nominal", "legend": null, "scale": {"domain": ["sun","psn","jupiter","saturn","venus","mars","chondrite","icysq","icyci","icydi","icyast","phoebe","titan","tno","comet","jfc","jfcopen","uranus","neptune","c67p","thiswork","dash"], "range": ["#eab43a","#e8ae3c","#f27545","#9c1030","#7a2e9e","#e3101e","#8c8c8c","#4ca7da","#4ca7da","#4ca7da","#4ca7da","#e61ee6","#f2692e","#2e6fae","#1c22f0","#141670","#e4e4ee","#8a2ca6","#dba0d6","#c8c8f0","#d6d6e6","#222222"]}},
       "stroke": {"field": "g", "type": "nominal", "legend": null, "scale": {"domain": ["sun","psn","jupiter","saturn","venus","mars","chondrite","icysq","icyci","icydi","icyast","phoebe","titan","tno","comet","jfc","jfcopen","uranus","neptune","c67p","thiswork","dash"], "range": ["#222222","#222222","#222222","#222222","#7a2e9e","#e3101e","#8c8c8c","#4ca7da","#4ca7da","#4ca7da","#4ca7da","#e61ee6","#f2692e","#2e6fae","#1c22f0","#000000","#111111","#222222","#777777","#111111","#1a1a5e","#222222"]}},
       "size": {"field": "g", "type": "nominal", "legend": null, "scale": {"type": "ordinal", "domain": ["sun","psn","jupiter","saturn","venus","mars","chondrite","icysq","icyci","icydi","icyast","phoebe","titan","tno","comet","jfc","jfcopen","uranus","neptune","c67p","thiswork","dash"], "range": [140,90,140,140,60,60,60,50,50,50,60,55,50,60,50,65,65,120,120,130,90,60]}},
       "strokeWidth": {"field": "g", "type": "nominal", "legend": null, "scale": {"type": "ordinal", "domain": ["sun","psn","jupiter","saturn","venus","mars","chondrite","icysq","icyci","icydi","icyast","phoebe","titan","tno","comet","jfc","jfcopen","uranus","neptune","c67p","thiswork","dash"], "range": [1,1,1,1,1,1,1,1,1,1,1.5,1,1,1.5,1,1.5,1.5,1,1,2.2,2.2,2.5]}},
       "fillOpacity": {"field": "g", "type": "nominal", "legend": null, "scale": {"type": "ordinal", "domain": ["sun","psn","jupiter","saturn","venus","mars","chondrite","icysq","icyci","icydi","icyast","phoebe","titan","tno","comet","jfc","jfcopen","uranus","neptune","c67p","thiswork","dash"], "range": [1,1,1,1,1,1,1,1,1,1,1,1,1,1,1,1,0.6,1,1,0.55,0.5,1]}}}},
    {"data": {"name": "c_lab"}, "transform": [{"filter": "datum.g != 'thiswork'"}], "mark": {"type": "text", "fontSize": 14},
     "encoding": {"x": {"field": "x", "type": "quantitative", "axis": {"orient": "top", "values": [0.5,1.5,2.5,3.5,4.5,5.5,6.5,7.5,8.5,9.5,10.5,11.5,12.5,13.5,14.5,15.5,16.5,17.5,18.5,19.5], "labels": false, "domain": false, "tickSize": -3, "title": null}},
       "y": {"field": "y", "type": "quantitative", "axis": {"orient": "right", "values": [20,40,60,80,120,140,160,180,220,240,260,280,320,340,360,380,420,440,460,480,520,540,560,580,620,640], "labels": false, "domain": false, "tickSize": -3, "title": null}},
       "text": {"field": "t"}, "color": {"field": "g", "type": "nominal", "legend": null}}},
    {"data": {"name": "c_lab"}, "transform": [{"filter": "datum.g == 'thiswork'"}], "mark": {"type": "text", "fontSize": 15, "fontWeight": "bold"},
     "encoding": {"x": {"field": "x", "type": "quantitative", "axis": null}, "y": {"field": "y", "type": "quantitative", "axis": null}, "text": {"field": "t"}, "color": {"field": "g", "type": "nominal", "legend": null}}},
    {"data": {"name": "c_vlab"}, "mark": {"type": "text", "fontSize": 13, "angle": 270, "align": "left", "baseline": "middle"},
     "encoding": {"x": {"field": "x", "type": "quantitative", "axis": null}, "y": {"field": "y", "type": "quantitative", "axis": null}, "text": {"field": "t"}, "color": {"field": "g", "type": "nominal", "legend": null}}},
    {"data": {"values": [{"t": "C", "x": -0.92, "y": 634}]}, "mark": {"type": "text", "fontSize": 18, "fontWeight": "bold", "color": "#111"},
     "encoding": {"x": {"field": "x", "type": "quantitative", "axis": null}, "y": {"field": "y", "type": "quantitative", "axis": null}, "text": {"field": "t"}}}
  ]
}
]
}
